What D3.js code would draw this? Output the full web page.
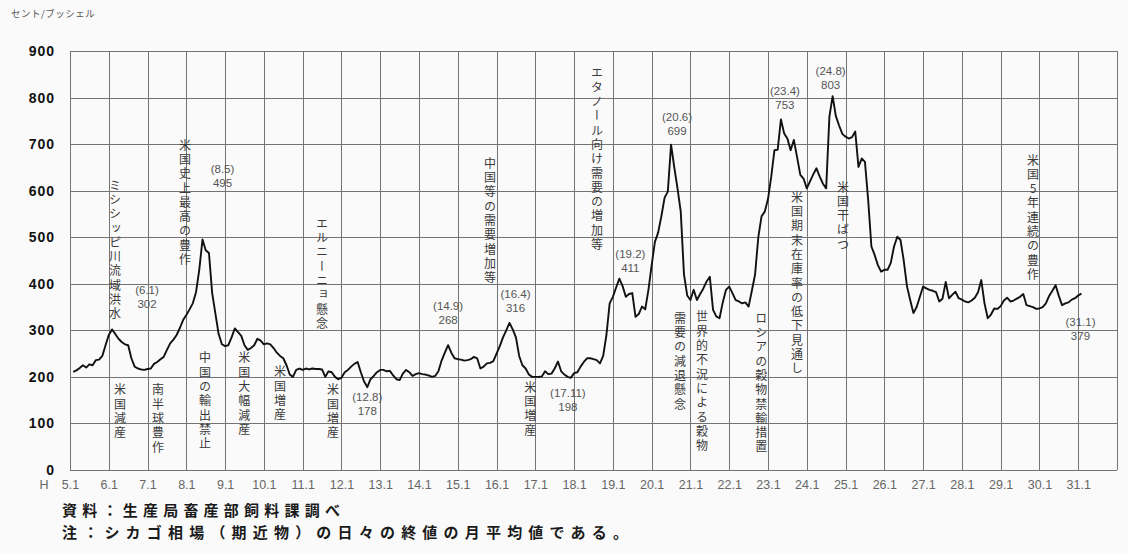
<!DOCTYPE html>
<html lang="ja">
<head>
<meta charset="UTF-8" />
<title>とうもろこし シカゴ相場の推移</title>
<script src="https://cdnjs.cloudflare.com/ajax/libs/d3/7.8.5/d3.min.js"></script>
<style>
  body { margin: 0; background: #fafafa; }
  svg { display: block; font-family: "Noto Sans CJK JP", sans-serif; }
  .grid line { stroke: #747474; stroke-width: 1; shape-rendering: crispEdges; }
  .grid path { display: none; }
  .ylab text { font-family: "Liberation Sans", Arial, sans-serif; font-weight: bold; font-size: 14px; fill: #111; letter-spacing: 1px; }
  .xlab text { font-family: "Liberation Sans", Arial, sans-serif; font-size: 12.5px; fill: #666; }
  .note text { font-size: 12px; fill: #3a3a3a; writing-mode: vertical-rl; text-orientation: upright; letter-spacing: 2.3px; }
  .peak text { font-family: "Liberation Sans", Arial, sans-serif; font-size: 11.5px; fill: #555; }
</style>
</head>
<body>
<svg id="chart" width="1128" height="554"></svg>

<script>
// 平成 H5.1（1993年1月）から H31.1 までの月平均値（セント/ブッシェル）
var startYear = 5;
var yearTicks = d3.range(5, 32);          // 5.1 ... 31.1
var yTicks = d3.range(0, 901, 100);

var price = [
  211, 214, 219, 225, 220, 227, 225, 236, 237, 245, 268, 290, // H5
  302, 292, 282, 275, 270, 268, 240, 222, 218, 216, 215, 217, // H6
  218, 228, 232, 238, 243, 258, 272, 280, 290, 305, 322, 333, // H7
  345, 358, 382, 430, 495, 472, 466, 380, 336, 292, 270, 266, // H8
  268, 285, 304, 296, 288, 268, 258, 262, 268, 282, 278, 270, // H9
  272, 270, 262, 252, 245, 240, 225, 205, 200, 215, 218, 215, // H10
  218, 216, 218, 217, 217, 216, 200, 212, 210, 200, 195, 198, // H11
  210, 215, 222, 228, 232, 210, 190, 178, 195, 202, 210, 215, // H12
  215, 212, 213, 203, 195, 193, 207, 215, 210, 202, 206, 208, // H13
  206, 205, 203, 200, 202, 212, 235, 252, 268, 252, 240, 238, // H14
  237, 235, 236, 238, 243, 240, 218, 222, 229, 230, 234, 250, // H15
  266, 285, 300, 316, 302, 285, 245, 225, 218, 205, 200, 200, // H16
  200, 201, 212, 206, 207, 218, 233, 212, 205, 200, 198, 208, // H17
  210, 222, 232, 240, 240, 238, 236, 229, 245, 290, 358, 372, // H18
  392, 411, 395, 372, 378, 380, 329, 335, 351, 345, 387, 440, // H19
  490, 510, 545, 585, 598, 699, 650, 605, 555, 420, 375, 365, // H20
  387, 365, 378, 390, 405, 415, 344, 330, 326, 360, 387, 394, // H21
  380, 365, 362, 358, 360, 351, 385, 420, 500, 545, 555, 582, // H22
  630, 687, 688, 753, 723, 712, 687, 709, 672, 634, 626, 605, // H23
  620, 635, 648, 630, 615, 605, 759, 803, 760, 740, 722, 716, // H24
  712, 715, 727, 651, 669, 662, 580, 480, 462, 440, 426, 430, // H25
  430, 445, 480, 501, 494, 450, 395, 365, 337, 350, 372, 394, // H26
  390, 387, 385, 382, 362, 368, 404, 369, 376, 383, 369, 366, // H27
  362, 360, 364, 370, 382, 408, 358, 326, 334, 347, 346, 352, // H28
  364, 370, 362, 364, 368, 372, 378, 354, 352, 350, 346, 347, // H29
  350, 358, 374, 385, 397, 374, 354, 358, 360, 366, 369, 375, // H30
  379                                                         // H31
];

// 高値・安値のラベル（i は price の添字）
var peaks = [
  { when: "6.1",   i: 12,  dx: 35, dy: -35 },
  { when: "8.5",   i: 40,  dx: 20, dy: -67 },
  { when: "12.8",  i: 91,  dx: 0,  dy: 14 },
  { when: "14.9",  i: 116, dx: 0,  dy: -35 },
  { when: "16.4",  i: 135, dx: 6,  dy: -25 },
  { when: "17.11", i: 154, dx: -3, dy: 19 },
  { when: "19.2",  i: 169, dx: 11, dy: -21 },
  { when: "20.6",  i: 185, dx: 6,  dy: -24 },
  { when: "23.4",  i: 219, dx: 4,  dy: -24 },
  { when: "24.8",  i: 235, dx: -2, dy: -21 },
  { when: "31.1",  i: 312, dx: -1, dy: 32 }
];

// 縦書きの要因メモ（m: 月目盛り位置, top: 書き出しの値）
var notes = [
  { text: "ミシシッピ川流域洪水", m: 13.9, top: 627 },
  { text: "米国史上最高の豊作", m: 35.6, top: 713 },
  { text: "エルニーニョ懸念", m: 78.0, top: 545 },
  { text: "中国等の需要増加等", m: 130.0, top: 674 },
  { text: "エタノール向け需要の増加等", m: 163.1, top: 868 },
  { text: "世界的不況による穀物", m: 195.6, top: 344 },
  { text: "需要の減退懸念", m: 188.8, top: 341 },
  { text: "ロシアの穀物禁輸措置", m: 213.9, top: 341 },
  { text: "米国期末在庫率の低下見通し", m: 225.0, top: 601 },
  { text: "米国干ばつ", m: 239.2, top: 623 },
  { text: "米国5年連続の豊作", m: 298.0, top: 681 },
  { text: "米国減産", m: 15.5, top: 187 },
  { text: "南半球豊作", m: 27.2, top: 187 },
  { text: "中国の輸出禁止", m: 41.8, top: 256 },
  { text: "米国大幅減産", m: 53.9, top: 256 },
  { text: "米国増産", m: 65.0, top: 226 },
  { text: "米国増産", m: 81.4, top: 187 },
  { text: "米国増産", m: 142.4, top: 193 }
];

var svg = d3.select("#chart");
var plotL = 70, plotR = 1117, plotT = 51, plotB = 470;

var x = d3.scaleLinear().domain([0, yearTicks.length * 12]).range([plotL, plotR]);
var y = d3.scaleLinear().domain([0, 900]).range([plotB, plotT]);
var monthTicks = yearTicks.map(function (d) { return (d - startYear) * 12; });

/* grid */
svg.append("g").attr("class", "grid")
  .attr("transform", "translate(" + plotL + ",0)")
  .call(d3.axisLeft(y).tickValues(yTicks).tickSize(-(plotR - plotL)).tickFormat(""));
svg.append("g").attr("class", "grid")
  .attr("transform", "translate(0," + plotB + ")")
  .call(d3.axisBottom(x).tickValues(monthTicks.concat([yearTicks.length * 12]))
    .tickSize(-(plotB - plotT)).tickFormat(""));

/* axis labels */
svg.append("g").attr("class", "ylab")
  .attr("transform", "translate(" + plotL + ",0)")
  .call(d3.axisLeft(y).tickValues(yTicks).tickSize(0).tickPadding(15))
  .call(function (g) { g.select(".domain").remove(); });

svg.append("g").attr("class", "xlab")
  .attr("transform", "translate(0," + plotB + ")")
  .call(d3.axisBottom(x).tickValues(monthTicks).tickSize(0).tickPadding(10)
    .tickFormat(function (d) { return (startYear + d / 12) + ".1"; }))
  .call(function (g) { g.select(".domain").remove(); });

svg.append("text").attr("x", 44).attr("y", 489)
  .attr("text-anchor", "middle")
  .style("font-family", "Liberation Sans, Arial, sans-serif")
  .style("font-size", "12.5px").style("fill", "#666")
  .text("H");

svg.append("text").attr("x", 11).attr("y", 17)
  .style("font-size", "9.5px").style("fill", "#555").style("letter-spacing", "0.5px")
  .text("セント/ブッシェル");

/* price line */
var line = d3.line()
  .x(function (d, i) { return x(i + 1); })
  .y(function (d) { return y(d); });

svg.append("path")
  .datum(price)
  .attr("fill", "none")
  .attr("stroke", "#111")
  .attr("stroke-width", 1.9)
  .attr("stroke-linejoin", "round")
  .attr("d", line);

/* peak labels */
var pk = svg.append("g").attr("class", "peak");
peaks.forEach(function (p) {
  var px = x(p.i + 1) + p.dx, py = y(price[p.i]) + p.dy;
  pk.append("text").attr("x", px).attr("y", py).attr("text-anchor", "middle")
    .text("(" + p.when + ")");
  pk.append("text").attr("x", px).attr("y", py + 14).attr("text-anchor", "middle")
    .text(price[p.i]);
});

/* vertical notes */
svg.append("g").attr("class", "note")
  .selectAll("text")
  .data(notes)
  .enter()
  .append("text")
  .attr("x", function (d) { return x(d.m); })
  .attr("y", function (d) { return y(d.top) + 1; })
  .text(function (d) { return d.text; });

/* source notes */
var foot = svg.append("g")
  .style("font-size", "15px").style("font-weight", "bold")
  .style("fill", "#1a1a1a");
foot.append("text").attr("x", 62).attr("y", 516)
  .attr("textLength", 278).attr("lengthAdjust", "spacing")
  .text("資料：生産局畜産部飼料課調べ");
foot.append("text").attr("x", 62).attr("y", 538)
  .attr("textLength", 566).attr("lengthAdjust", "spacing")
  .text("注：シカゴ相場（期近物）の日々の終値の月平均値である。");
</script>
</body>
</html>
